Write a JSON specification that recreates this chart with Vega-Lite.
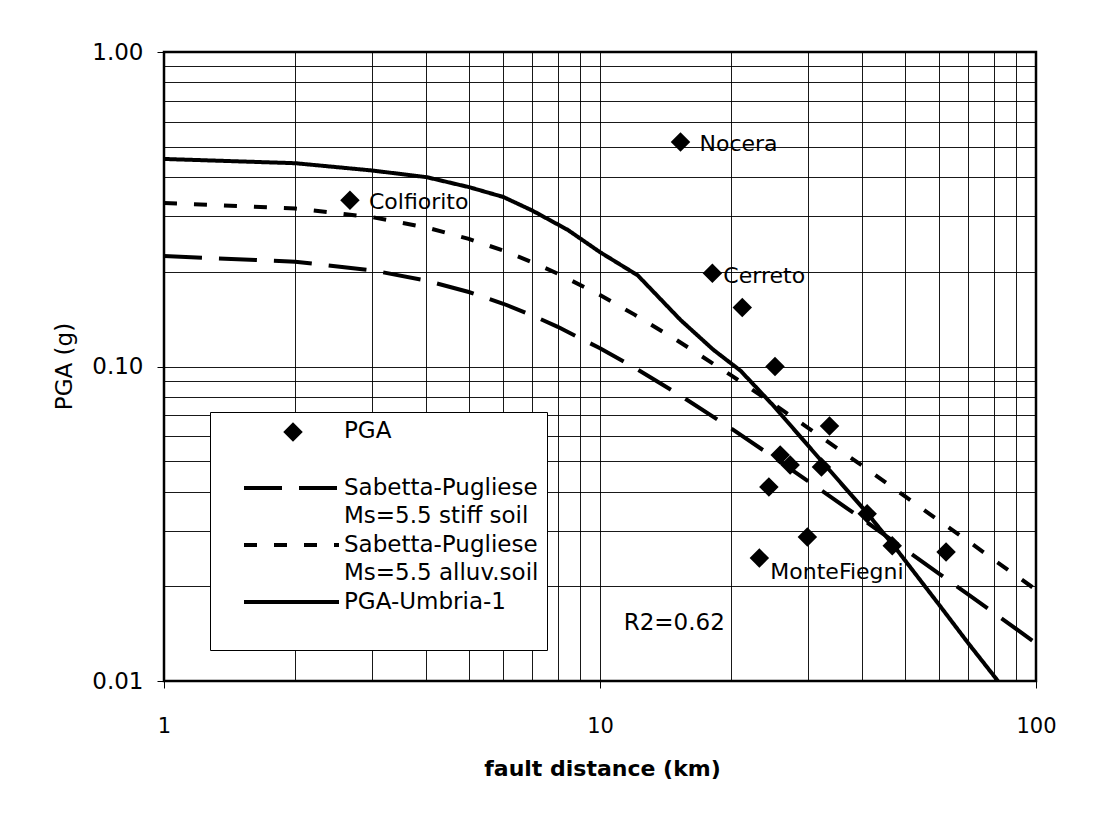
{
  "$schema": "https://vega.github.io/schema/vega-lite/v6.json",
  "width": 872,
  "height": 629,
  "autosize": {"type": "none"},
  "padding": {"left": 164, "top": 52, "right": 58, "bottom": 134},
  "background": "white",
  "config": {
    "view": {"stroke": "black", "strokeWidth": 2.5},
    "font": "DejaVu Sans"
  },
  "datasets": {
    "curves": [
      {"series": "SP_stiff", "dist": 1, "pga": 0.2245},
      {"series": "SP_stiff", "dist": 2, "pga": 0.2154},
      {"series": "SP_stiff", "dist": 3, "pga": 0.2023},
      {"series": "SP_stiff", "dist": 4, "pga": 0.1875},
      {"series": "SP_stiff", "dist": 5, "pga": 0.1725},
      {"series": "SP_stiff", "dist": 6, "pga": 0.1583},
      {"series": "SP_stiff", "dist": 7, "pga": 0.1453},
      {"series": "SP_stiff", "dist": 8, "pga": 0.1337},
      {"series": "SP_stiff", "dist": 10, "pga": 0.1143},
      {"series": "SP_stiff", "dist": 12, "pga": 0.0991},
      {"series": "SP_stiff", "dist": 15, "pga": 0.0822},
      {"series": "SP_stiff", "dist": 20, "pga": 0.0635},
      {"series": "SP_stiff", "dist": 25, "pga": 0.0515},
      {"series": "SP_stiff", "dist": 30, "pga": 0.0432},
      {"series": "SP_stiff", "dist": 40, "pga": 0.0327},
      {"series": "SP_stiff", "dist": 50, "pga": 0.02625},
      {"series": "SP_stiff", "dist": 60, "pga": 0.02192},
      {"series": "SP_stiff", "dist": 70, "pga": 0.01881},
      {"series": "SP_stiff", "dist": 80, "pga": 0.01647},
      {"series": "SP_stiff", "dist": 100, "pga": 0.01319},
      {"series": "SP_alluv", "dist": 1, "pga": 0.3313},
      {"series": "SP_alluv", "dist": 2, "pga": 0.3179},
      {"series": "SP_alluv", "dist": 3, "pga": 0.2985},
      {"series": "SP_alluv", "dist": 4, "pga": 0.2767},
      {"series": "SP_alluv", "dist": 5, "pga": 0.2546},
      {"series": "SP_alluv", "dist": 6, "pga": 0.2336},
      {"series": "SP_alluv", "dist": 7, "pga": 0.2144},
      {"series": "SP_alluv", "dist": 8, "pga": 0.1973},
      {"series": "SP_alluv", "dist": 10, "pga": 0.1687},
      {"series": "SP_alluv", "dist": 12, "pga": 0.1462},
      {"series": "SP_alluv", "dist": 15, "pga": 0.1213},
      {"series": "SP_alluv", "dist": 20, "pga": 0.0937},
      {"series": "SP_alluv", "dist": 25, "pga": 0.076},
      {"series": "SP_alluv", "dist": 30, "pga": 0.0638},
      {"series": "SP_alluv", "dist": 40, "pga": 0.0483},
      {"series": "SP_alluv", "dist": 50, "pga": 0.0387},
      {"series": "SP_alluv", "dist": 60, "pga": 0.0323},
      {"series": "SP_alluv", "dist": 70, "pga": 0.0278},
      {"series": "SP_alluv", "dist": 80, "pga": 0.0243},
      {"series": "SP_alluv", "dist": 100, "pga": 0.0195},
      {"series": "Umbria", "dist": 1, "pga": 0.457},
      {"series": "Umbria", "dist": 2, "pga": 0.443},
      {"series": "Umbria", "dist": 3, "pga": 0.42},
      {"series": "Umbria", "dist": 4, "pga": 0.4},
      {"series": "Umbria", "dist": 5, "pga": 0.372},
      {"series": "Umbria", "dist": 6, "pga": 0.346},
      {"series": "Umbria", "dist": 7, "pga": 0.313},
      {"series": "Umbria", "dist": 8.43, "pga": 0.272},
      {"series": "Umbria", "dist": 10, "pga": 0.231},
      {"series": "Umbria", "dist": 12.2, "pga": 0.195},
      {"series": "Umbria", "dist": 15.3, "pga": 0.1406},
      {"series": "Umbria", "dist": 18.2, "pga": 0.113},
      {"series": "Umbria", "dist": 21, "pga": 0.097},
      {"series": "Umbria", "dist": 25, "pga": 0.075},
      {"series": "Umbria", "dist": 32, "pga": 0.0506},
      {"series": "Umbria", "dist": 41, "pga": 0.0342},
      {"series": "Umbria", "dist": 48, "pga": 0.0261},
      {"series": "Umbria", "dist": 60, "pga": 0.01745},
      {"series": "Umbria", "dist": 70, "pga": 0.01316},
      {"series": "Umbria", "dist": 81.8, "pga": 0.01}
    ],
    "stations": [
      {"kind": "PGA", "dist": 2.67, "pga": 0.338, "label": "Colfiorito"},
      {"kind": "PGA", "dist": 15.3, "pga": 0.517, "label": "Nocera"},
      {"kind": "PGA", "dist": 18.1, "pga": 0.198, "label": "Cerreto"},
      {"kind": "PGA", "dist": 21.2, "pga": 0.154, "label": ""},
      {"kind": "PGA", "dist": 25.2, "pga": 0.1, "label": ""},
      {"kind": "PGA", "dist": 33.6, "pga": 0.0647, "label": ""},
      {"kind": "PGA", "dist": 25.9, "pga": 0.0523, "label": ""},
      {"kind": "PGA", "dist": 27.3, "pga": 0.0486, "label": ""},
      {"kind": "PGA", "dist": 32.2, "pga": 0.0479, "label": ""},
      {"kind": "PGA", "dist": 24.4, "pga": 0.0414, "label": ""},
      {"kind": "PGA", "dist": 29.9, "pga": 0.0287, "label": ""},
      {"kind": "PGA", "dist": 23.2, "pga": 0.0246, "label": "MonteFiegni"},
      {"kind": "PGA", "dist": 41.0, "pga": 0.034, "label": ""},
      {"kind": "PGA", "dist": 46.8, "pga": 0.0269, "label": ""},
      {"kind": "PGA", "dist": 62.2, "pga": 0.0257, "label": ""}
    ]
  },
  "layer": [
    {
      "data": {"name": "curves"},
      "mark": {"type": "line", "color": "black", "strokeWidth": 4, "clip": true, "strokeCap": "butt"},
      "encoding": {
        "x": {
          "field": "dist", "type": "quantitative",
          "scale": {"type": "log", "domain": [1, 100], "nice": false},
          "axis": {
            "title": "fault distance (km)",
            "values": [1, 2, 3, 4, 5, 6, 7, 8, 9, 10, 20, 30, 40, 50, 60, 70, 80, 90, 100],
            "labelExpr": "(datum.value == 1 || datum.value == 10 || datum.value == 100) ? format(datum.value, 'd') : ''",
            "labelFont": "DejaVu Sans", "labelFontSize": 21, "labelColor": "black",
            "labelPadding": 27, "labelFlush": false, "labelOverlap": false,
            "tickSize": 7, "tickColor": "black", "tickWidth": 1,
            "tickOpacity": {"condition": {"test": "datum.value == 1 || datum.value == 10 || datum.value == 100", "value": 1}, "value": 0},
            "grid": true, "gridColor": "black", "gridWidth": 1, "gridOpacity": 0.9,
            "domain": false,
            "titleFont": "DejaVu Sans", "titleFontWeight": "bold", "titleFontSize": 22, "titleColor": "black",
            "titleX": 438, "titleY": 94, "titleAlign": "center", "titleBaseline": "alphabetic"
          }
        },
        "y": {
          "field": "pga", "type": "quantitative",
          "scale": {"type": "log", "domain": [0.01, 1], "nice": false},
          "axis": {
            "title": "PGA (g)",
            "values": [0.01, 0.02, 0.03, 0.04, 0.05, 0.06, 0.07, 0.08, 0.09, 0.1, 0.2, 0.3, 0.4, 0.5, 0.6, 0.7, 0.8, 0.9, 1],
            "labelExpr": "(datum.value == 0.01 || datum.value == 0.1 || datum.value == 1) ? format(datum.value, '.2f') : ''",
            "labelFont": "DejaVu Sans", "labelFontSize": 23, "labelColor": "black",
            "labelPadding": 14, "labelOverlap": false, "labelFlush": false,
            "tickSize": 7, "tickColor": "black", "tickWidth": 1,
            "tickOpacity": {"condition": {"test": "datum.value == 0.01 || datum.value == 0.1 || datum.value == 1", "value": 1}, "value": 0},
            "grid": true, "gridColor": "black", "gridWidth": 1, "gridOpacity": 0.9,
            "domain": false,
            "titleFont": "DejaVu Sans", "titleFontWeight": "normal", "titleFontSize": 23, "titleColor": "black",
            "titleX": -100, "titleY": 314, "titleAngle": 270, "titleAlign": "center", "titleBaseline": "middle"
          }
        },
        "strokeDash": {
          "field": "series", "type": "nominal",
          "scale": {
            "domain": ["PGA", "SP_stiff", "SP_alluv", "Umbria"],
            "range": [[0, 300], [38, 17], [13, 17], [1, 0]]
          },
          "legend": {
            "title": null,
            "orient": "none", "legendX": 46, "legendY": 360,
            "fillColor": "white", "strokeColor": "black",
            "padding": 8,
            "clipHeight": 51,
            "symbolType": "stroke", "symbolSize": 9025, "symbolStrokeWidth": 4, "symbolStrokeColor": "black",
            "symbolOffset": 24,
            "labelFont": "DejaVu Sans", "labelFontSize": 23, "labelColor": "black", "labelOffset": 3, "labelLimit": 500,
            "labelBaseline": "top",
            "labelExpr": "datum.value == 'PGA' ? ['PGA', ' '] : datum.value == 'SP_stiff' ? ['Sabetta-Pugliese', 'Ms=5.5 stiff soil'] : datum.value == 'SP_alluv' ? ['Sabetta-Pugliese', 'Ms=5.5 alluv.soil'] : ['PGA-Umbria-1']",
            "rowPadding": 6,
            "encode": {
              "symbols": {"update": {"y": {"value": 11}}},
              "labels": {"update": {"lineHeight": {"value": 28}, "y": {"value": 0}}}
            }
          }
        }
      }
    },
    {
      "data": {"name": "stations"},
      "mark": {"type": "point", "filled": true, "color": "black", "size": 380, "opacity": 1},
      "encoding": {
        "x": {"field": "dist", "type": "quantitative", "scale": {"type": "log", "domain": [1, 100], "nice": false}},
        "y": {"field": "pga", "type": "quantitative", "scale": {"type": "log", "domain": [0.01, 1], "nice": false}},
        "shape": {
          "field": "kind", "type": "nominal",
          "scale": {"domain": ["PGA"], "range": ["diamond"]},
          "legend": {
            "title": null,
            "orient": "none", "legendX": 119, "legendY": 370,
            "padding": 0, "zindex": 2,
            "symbolType": "diamond", "symbolSize": 380, "symbolFillColor": "black", "symbolStrokeWidth": 0,
            "labelExpr": "''", "labelFontSize": 10
          }
        }
      }
    },
    {
      "data": {"name": "stations"},
      "transform": [{"filter": "datum.label == 'Nocera' || datum.label == 'Colfiorito'"}],
      "mark": {"type": "text", "align": "left", "baseline": "middle", "dx": 19, "dy": 2, "font": "DejaVu Sans", "fontSize": 22, "color": "black"},
      "encoding": {
        "x": {"field": "dist", "type": "quantitative"},
        "y": {"field": "pga", "type": "quantitative"},
        "text": {"field": "label"}
      }
    },
    {
      "data": {"name": "stations"},
      "transform": [{"filter": "datum.label == 'Cerreto'"}],
      "mark": {"type": "text", "align": "left", "baseline": "middle", "dx": 11, "dy": 3, "font": "DejaVu Sans", "fontSize": 22, "color": "black"},
      "encoding": {
        "x": {"field": "dist", "type": "quantitative"},
        "y": {"field": "pga", "type": "quantitative"},
        "text": {"field": "label"}
      }
    },
    {
      "data": {"name": "stations"},
      "transform": [{"filter": "datum.label == 'MonteFiegni'"}],
      "mark": {"type": "text", "align": "left", "baseline": "middle", "dx": 11, "dy": 14, "font": "DejaVu Sans", "fontSize": 22, "color": "black"},
      "encoding": {
        "x": {"field": "dist", "type": "quantitative"},
        "y": {"field": "pga", "type": "quantitative"},
        "text": {"field": "label"}
      }
    },
    {
      "data": {"values": [{"note": "R2=0.62"}]},
      "mark": {"type": "text", "align": "center", "baseline": "middle", "font": "DejaVu Sans", "fontSize": 23, "color": "black"},
      "encoding": {
        "x": {"datum": 14.8, "type": "quantitative"},
        "y": {"datum": 0.0153, "type": "quantitative"},
        "text": {"field": "note"}
      }
    }
  ]
}
